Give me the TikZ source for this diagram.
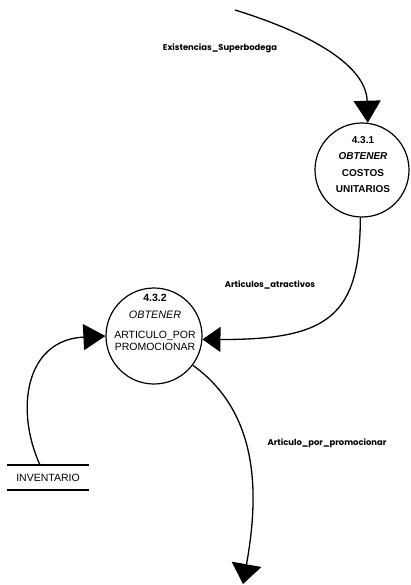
\documentclass[tikz,border=0pt]{standalone}
\usepackage{fontspec}
\setmainfont{Liberation Sans}
\newfontfamily\flowfont{Poppins}
\usetikzlibrary{arrows.meta}

\begin{document}
\begin{tikzpicture}[x=1pt,y=-1pt,
  flowline/.style={line width=1.3pt},
  bigtip/.style 2 args={-{Triangle[length=#1pt,width=#2pt]}},
  process/.style={circle, draw, line width=1.2pt, minimum size=94pt, inner sep=0pt},
  flowlabel/.style={font=\flowfont\bfseries\fontsize{8.4}{10}\selectfont, inner sep=0pt},
  storeline/.style={line width=1.8pt}
]
\useasboundingbox (0,0) rectangle (411,585);

% processes
\node[process] (p1) at (362,170) {};
\node[font=\bfseries\fontsize{10}{16.2}\selectfont, align=center, inner sep=0pt] (p1txt) at (363,164.5)
  {4.3.1\\\textit{OBTENER}\\COSTOS\\UNITARIOS};

\node[process, minimum size=96pt] (p2) at (154,336) {};
\node[font=\bfseries\fontsize{10.5}{12}\selectfont, inner sep=0pt] (p2num) at (155,298) {4.3.2};
\node[font=\itshape\fontsize{10.8}{12}\selectfont, inner sep=0pt] (p2verb) at (155,315) {OBTENER};
\node[font=\fontsize{10.5}{12.5}\selectfont, align=center, inner sep=0pt] (p2name) at (155,341)
  {ARTICULO\_POR\\PROMOCIONAR};

% data store
\node[font=\fontsize{10.5}{12}\selectfont, minimum width=82pt, minimum height=25pt, inner sep=0pt]
  (inv) at (48,477.5) {INVENTARIO};
\draw[storeline] (inv.north west) -- (inv.north east);
\draw[storeline] (inv.south west) -- (inv.south east);

% flows
\coordinate (src) at (235,10);
\draw[flowline, bigtip={22}{27}] (src) .. controls (300,30) and (366,62) .. (p1.83);
\draw[flowline, bigtip={18}{25}] (p1.268) .. controls (360,315) and (330,340) .. (p2.-4);
\coordinate (invtop) at (40,465);
\draw[flowline, bigtip={22}{26}] (invtop) .. controls (15,410) and (25,340) .. (p2.180);
\coordinate (sink) at (243,584);
\draw[flowline, bigtip={20}{30}] (p2.-37) .. controls (262,415) and (258,500) .. (sink);

% flow labels
\node[flowlabel] (l1) at (220,48) {Existencias\_Superbodega};
\node[flowlabel] (l2) at (270,285) {Articulos\_atractivos};
\node[flowlabel] (l3) at (327,443) {Articulo\_por\_promocionar};
\end{tikzpicture}
\end{document}
